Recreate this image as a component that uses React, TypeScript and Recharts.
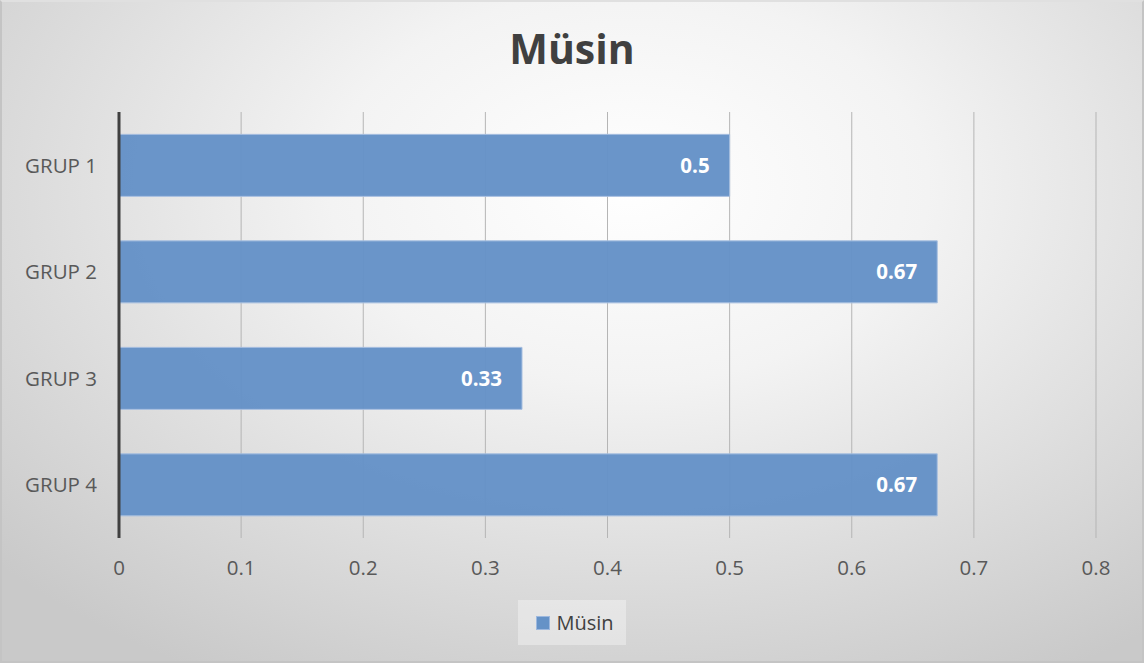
import React from "react";
import { Bar, BarChart, CartesianGrid, LabelList, Legend, XAxis, YAxis } from "recharts";

const groups = ["GRUP 1", "GRUP 2", "GRUP 3", "GRUP 4"];
const musinValues = [0.5, 0.67, 0.33, 0.67];
const xTicks = [0, 0.1, 0.2, 0.3, 0.4, 0.5, 0.6, 0.7, 0.8];

const data = groups.map((g, i) => ({ group: g, musin: musinValues[i] }));

const FONT = "'Open Sans', 'Liberation Sans', sans-serif";

const renderLegend = () => (
  <div style={{ display: "flex", justifyContent: "center" }}>
    <div
      style={{
        display: "flex",
        alignItems: "center",
        padding: "9px 12px 9px 18px",
        background: "rgba(255,255,255,0.35)",
        fontFamily: FONT,
        fontSize: 20,
        color: "#404040",
      }}
    >
      <span
        style={{
          width: 12,
          height: 12,
          background: "#6592c7",
          border: "1px solid #9db8de",
          marginRight: 6,
          display: "inline-block",
        }}
      />
      Müsin
    </div>
  </div>
);

const App: React.FC = () => {
  return (
    <div
      style={{
        position: "absolute",
        left: 0,
        top: 0,
        width: 1144,
        height: 663,
        boxSizing: "border-box",
        border: "2px solid #c4c4c4",
        borderTopColor: "#e0e0e0",
        background: "radial-gradient(ellipse 75% 85% at 55% 28%, #ffffff 0%, #f3f3f3 35%, #dcdcdc 70%, #c9c9c9 100%)",
      }}
    >
      <div
        style={{
          position: "absolute",
          top: 18,
          left: 0,
          width: "100%",
          textAlign: "center",
          fontFamily: FONT,
          fontWeight: 700,
          fontSize: 41,
          color: "#404040",
        }}
      >
        Müsin
      </div>
      <BarChart
        width={1140}
        height={659}
        data={data}
        layout="vertical"
        barCategoryGap="21%"
        margin={{ top: 110, right: 46, bottom: 28, left: 0 }}
      >
        <CartesianGrid horizontal={false} stroke="#b5b5b5" />
        <XAxis
          type="number"
          domain={[0, 0.8]}
          ticks={xTicks}
          axisLine={false}
          tickLine={false}
          height={50}
          tick={{ fontFamily: FONT, fontSize: 20.5, fill: "#595959" }}
          tickMargin={16}
        />
        <YAxis
          type="category"
          dataKey="group"
          width={117}
          axisLine={{ stroke: "#404040", strokeWidth: 3 }}
          tickLine={false}
          tick={{ fontFamily: FONT, fontSize: 20.5, fill: "#595959" }}
          tickMargin={16}
        />
        <Legend
          verticalAlign="bottom"
          content={renderLegend}
          wrapperStyle={{ left: 0, width: 1140, top: 598, bottom: "auto" }}
        />
        <Bar
          dataKey="musin"
          name="Müsin"
          fill="#6592c7"
          fillOpacity={0.97}
          stroke="#a7bfe0"
          strokeWidth={1}
          isAnimationActive={false}
        >
          <LabelList
            dataKey="musin"
            position="insideRight"
            offset={20}
            fill="#ffffff"
            style={{ fontFamily: FONT, fontSize: 20.5, fontWeight: 700 }}
          />
        </Bar>
      </BarChart>
    </div>
  );
};

export default App;
